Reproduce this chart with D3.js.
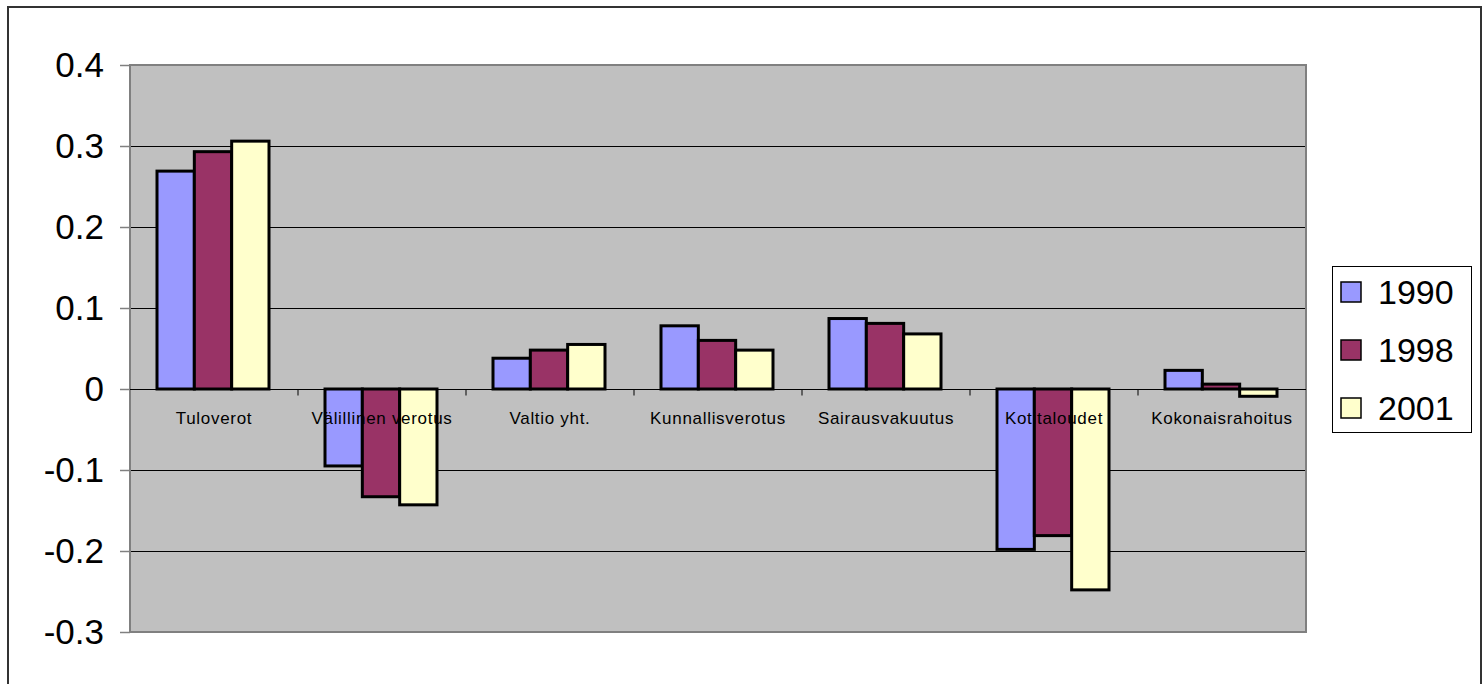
<!DOCTYPE html>
<html>
<head>
<meta charset="utf-8">
<script src="https://cdn.jsdelivr.net/npm/d3@7"></script>
<style>
    body { margin: 0; background: #fff; }
    svg { display: block; font-family: "Liberation Sans", Arial, sans-serif; }
</style>
</head>
<body>
<svg id="chart" width="1483" height="684"></svg>
<script>
// Chart data
const categories = ['Tuloverot', 'Välillinen verotus', 'Valtio yht.', 'Kunnallisverotus',
    'Sairausvakuutus', 'Kotitaloudet', 'Kokonaisrahoitus'];
const seriesNames = ['1990', '1998', '2001'];
const values1990 = [0.269, -0.095, 0.038, 0.078, 0.087, -0.198, 0.023];
const values1998 = [0.293, -0.133, 0.048, 0.060, 0.081, -0.181, 0.006];
const values2001 = [0.306, -0.143, 0.055, 0.048, 0.068, -0.248, -0.009];
const yTicks = [0.4, 0.3, 0.2, 0.1, 0, -0.1, -0.2, -0.3];
const colors = ['#9999FF', '#993366', '#FFFFCC'];

const seriesValues = [values1990, values1998, values2001];

const svg = d3.select('#chart');

// Outer frame
svg.append('rect')
    .attr('x', 8).attr('y', 7)
    .attr('width', 1473).attr('height', 700)
    .attr('fill', '#fff')
    .attr('stroke', '#333')
    .attr('stroke-width', 2);

// Plot area
const plot = { left: 130, right: 1306, top: 65, bottom: 632 };

const x0 = d3.scaleBand()
    .domain(categories)
    .range([plot.left, plot.right])
    .paddingInner(1.5 / 4.5)
    .paddingOuter(0.75 / 4.5);

const x1 = d3.scaleBand()
    .domain(seriesNames)
    .range([0, x0.bandwidth()]);

const y = d3.scaleLinear()
    .domain([-0.3, 0.4])
    .range([plot.bottom, plot.top]);

svg.append('rect')
    .attr('x', plot.left).attr('y', plot.top)
    .attr('width', plot.right - plot.left)
    .attr('height', plot.bottom - plot.top)
    .attr('fill', '#C0C0C0');

// Gridlines
svg.append('g')
    .selectAll('line')
    .data(yTicks.filter(d => d !== 0.4 && d !== -0.3))
    .join('line')
    .attr('x1', plot.left).attr('x2', plot.right)
    .attr('y1', d => Math.round(y(d)) + 0.5)
    .attr('y2', d => Math.round(y(d)) + 0.5)
    .attr('stroke', '#000')
    .attr('stroke-width', 1);

// Plot border
svg.append('rect')
    .attr('x', plot.left).attr('y', plot.top)
    .attr('width', plot.right - plot.left)
    .attr('height', plot.bottom - plot.top)
    .attr('fill', 'none')
    .attr('stroke', '#808080')
    .attr('stroke-width', 2);

// Y axis
const fmt = d => d === 0 ? '0' : String(+d.toFixed(1));
const yAxis = d3.axisLeft(y)
    .tickValues(yTicks)
    .tickFormat(fmt)
    .tickSize(10)
    .tickPadding(16);

svg.append('g')
    .attr('transform', `translate(${plot.left},0)`)
    .call(yAxis)
    .call(g => g.select('.domain').remove())
    .call(g => g.selectAll('.tick line').attr('stroke', '#808080').attr('stroke-width', 1.5))
    .call(g => g.selectAll('.tick text')
        .attr('font-size', 35)
        .attr('font-family', '"Liberation Sans", Arial, sans-serif')
        .attr('fill', '#000'));

// Zero line and category ticks
const zeroY = Math.round(y(0)) + 0.5;
svg.append('line')
    .attr('x1', plot.left).attr('x2', plot.right)
    .attr('y1', zeroY).attr('y2', zeroY)
    .attr('stroke', '#000');

const step = x0.step();
svg.append('g')
    .selectAll('line')
    .data(d3.range(1, categories.length))
    .join('line')
    .attr('x1', i => plot.left + i * step)
    .attr('x2', i => plot.left + i * step)
    .attr('y1', zeroY).attr('y2', zeroY + 6)
    .attr('stroke', '#000');

// Bars
const groups = svg.append('g')
    .selectAll('g')
    .data(categories)
    .join('g')
    .attr('transform', d => `translate(${x0(d) - 1},0)`);

groups.selectAll('rect')
    .data((d, i) => seriesNames.map((s, j) => ({ series: s, value: seriesValues[j][i], color: colors[j] })))
    .join('rect')
    .attr('x', d => x1(d.series))
    .attr('width', x1.bandwidth())
    .attr('y', d => y(Math.max(0, d.value)))
    .attr('height', d => Math.abs(y(d.value) - y(0)))
    .attr('fill', d => d.color)
    .attr('stroke', '#000')
    .attr('stroke-width', 3);

// Category labels
svg.append('g')
    .selectAll('text')
    .data(categories)
    .join('text')
    .attr('x', d => x0(d) + x0.bandwidth() / 2)
    .attr('y', 424)
    .attr('text-anchor', 'middle')
    .attr('font-size', 17)
    .attr('letter-spacing', 0.7)
    .attr('fill', '#000')
    .text(d => d);

// Legend
const legend = svg.append('g');
legend.append('rect')
    .attr('x', 1332.5).attr('y', 266.5)
    .attr('width', 139).attr('height', 166)
    .attr('fill', '#fff')
    .attr('stroke', '#000');

const items = legend.selectAll('g.item')
    .data(seriesNames)
    .join('g')
    .attr('class', 'item')
    .attr('transform', (d, i) => `translate(1341,${292 + i * 58})`);

items.append('rect')
    .attr('x', 0).attr('y', -10)
    .attr('width', 20).attr('height', 20)
    .attr('fill', (d, i) => colors[i])
    .attr('stroke', '#000')
    .attr('stroke-width', 1.5);

items.append('text')
    .attr('x', 37).attr('y', 12)
    .attr('font-size', 34)
    .attr('fill', '#000')
    .text(d => d);
</script>
</body>
</html>
